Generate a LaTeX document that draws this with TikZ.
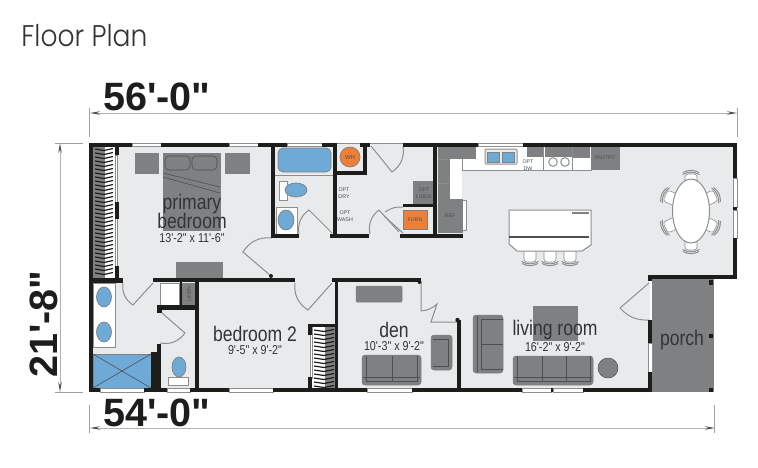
\documentclass[tikz,border=0pt]{standalone}
\usepackage{fontspec}
\newfontfamily\planfont{Liberation Sans}
\newfontfamily\titlefont{Poppins Light}
\usetikzlibrary{arrows.meta}
\definecolor{floorgrey}{HTML}{E9EAEC}
\definecolor{wallblack}{HTML}{1D1D1B}
\definecolor{fixgrey}{HTML}{7F8082}
\definecolor{fixline}{HTML}{4D4F52}
\definecolor{doorgrey}{HTML}{8C8E90}
\definecolor{tubblue}{HTML}{6FA9D6}
\definecolor{heatorange}{HTML}{EE7F36}
\definecolor{inkgrey}{HTML}{333436}
\tikzset{
	wall/.style={fill=wallblack},
	pane/.style={fill=white, draw=doorgrey, line width=0.012cm},
	door/.style={draw=doorgrey, line width=0.02cm},
	fixture/.style={fill=fixgrey, draw=fixgrey, line width=0.01cm},
	cushion/.style={draw=fixline, line width=0.012cm},
	whitebox/.style={fill=white, draw=doorgrey, line width=0.012cm},
	bluefix/.style={fill=tubblue, draw=fixgrey, line width=0.014cm},
	orangefix/.style={fill=heatorange, draw=fixgrey, line width=0.014cm},
	rod/.style={draw=wallblack, line width=0.024cm},
	measure/.style={draw=doorgrey!70, line width=0.02cm},
	tick/.style={draw=doorgrey!85, line width=0.02cm},
	roomlabel/.style={text=inkgrey, inner sep=0pt, font=\planfont\fontsize{10}{10}\selectfont},
	sizelabel/.style={text=inkgrey, inner sep=0pt, font=\planfont\fontsize{6.1}{6.1}\selectfont},
	tinylabel/.style={text=fixline, inner sep=0pt, align=center, font=\planfont\fontsize{3}{3.9}\selectfont},
	dimlabel/.style={text=wallblack, inner sep=0pt, font=\planfont\fontsize{22.5}{22.5}\selectfont\bfseries},
}
\newcommand\tallword[1]{\scalebox{1}[1.2]{#1}}
\def\dinechair[#1](#2,#3){\begin{scope}[shift={(#2,#3)},rotate=#1]
	\draw[whitebox, rounded corners=0.06cm] (-6,-4) rectangle (6,9);
	\draw[door] (-8.5,-3.5) to[bend left=28] (8.5,-3.5);
	\draw[door] (-8,-5.5) to[bend left=28] (8,-5.5);
\end{scope}}
\begin{document}
\begin{tikzpicture}[x=0.02cm, y=-0.02cm]
		%%%%% START %%%%%
		
		\useasboundingbox (0, 0) rectangle (758, 467);
		\fill[white] (0, 0) rectangle (758, 467);
		
		\node[text=inkgrey, anchor=base west, inner sep=0pt, font=\titlefont\fontsize{17}{17}\selectfont] (title) at (21, 46) {\scalebox{0.89}[1]{Floor Plan}};
		
		% floor and porch
		\fill[floorgrey] (90, 143) -- (737, 143) -- (737, 277) -- (650, 277) -- (650, 392) -- (90, 392) -- cycle;
		\draw[fixture] (652, 279) rectangle (713, 391);
		\fill[wall] (709, 280) rectangle (713, 285);
		\fill[wall] (709, 334) rectangle (713, 338);
		\fill[wall] (709, 388) rectangle (713, 392);
		
		% closet of the primary bedroom
		\fill[white] (93, 146) rectangle (115, 278);
		\fill[fixgrey] (93, 146) rectangle (105, 278);
		\foreach \yy in {149, 153, ..., 275}
			\draw[rod] (95, \yy) -- (104, \yy+1.5) -- (113, \yy-0.5);
		\draw[door, fill=white] (115, 155) rectangle (117.5, 267);
		
		% closet of bedroom 2
		\fill[white] (312, 327) rectangle (335, 388);
		\fill[fixgrey] (325, 327) rectangle (335, 388);
		\foreach \yy in {330, 334, ..., 386}
			\draw[rod] (314, \yy) -- (324, \yy+1.5) -- (334, \yy-0.5);
		\draw[door, fill=white] (310, 327) rectangle (312.5, 378);
		
		% primary bedroom
		\draw[fixture] (135, 153) rectangle (158, 173);
		\draw[fixture] (225, 153) rectangle (249, 173);
		\draw[fixture] (163, 153) rectangle (220, 230);
		\draw[cushion, rounded corners=0.08cm] (165, 156) rectangle (190, 170);
		\draw[cushion, rounded corners=0.08cm] (192, 156) rectangle (217, 170);
		\draw[cushion] (163, 173) -- (220, 187);
		\draw[cushion] (163, 177) -- (220, 193);
		\draw[fixture] (176, 262) rectangle (222, 277);
		\draw[door] (271, 276) -- (243, 252) to[bend left=32] (272, 238);
		
		% bath off the hall
		\draw[bluefix, rounded corners=0.1cm] (278, 148) rectangle (331, 172);
		\draw[door] (275, 175) -- (333, 175);
		\draw[whitebox] (279, 181) rectangle (287, 200);
		\draw[bluefix] (296, 190) ellipse (11 and 7);
		\draw[whitebox] (276, 207) rectangle (297, 234);
		\draw[bluefix] (286, 220) ellipse (8 and 10);
		\draw[door] (332, 233) -- (309, 210) to[bend right=32] (299, 234);
		
		% utility
		\draw[orangefix] (350, 157) circle (10);
		\node[tinylabel, font=\planfont\fontsize{3.4}{3.4}\selectfont] (wh) at (350, 157) {WH};
		\node[tinylabel] (optdry) at (344, 193) {OPT\\DRY};
		\node[tinylabel] (optwash) at (345, 216) {OPT\\WASH};
		\draw[door] (371, 146) -- (392, 172) to[bend right=32] (403, 146);
		\draw[fixture] (413, 181) rectangle (434, 204);
		\node[tinylabel] (optlinen) at (424, 193) {OPT\\LINEN};
		\draw[orangefix] (403, 210) rectangle (427, 229);
		\node[tinylabel] (furn) at (415, 220) {FURN};
		\draw[door] (370, 234) to[bend left=32] (379, 210) -- (399, 232);
		\draw[door] (384, 216) -- (403, 233);
		\draw[door] (385, 212) to[bend left=18] (403, 207);
		
		% kitchen
		\fill[white] (449, 158) rectangle (462, 200);
		\draw[whitebox] (462, 146) rectangle (591, 170);
		\fill[floorgrey] (462, 170.5) rectangle (470, 175);
		\draw[fixture] (438, 146) rectangle (475, 158);
		\draw[fixture] (438, 158) rectangle (449, 200);
		\draw[door] (438, 159) -- (449, 159);
		\draw[door] (438, 183) -- (449, 183);
		\draw[whitebox] (462, 200) rectangle (466, 230);
		\draw[fixture] (438, 199) rectangle (462, 232);
		\node[tinylabel] (ref) at (450, 216) {REF};
		\draw[fill=floorgrey, draw=doorgrey, line width=0.02cm, rounded corners=0.02cm] (485, 149) rectangle (517, 164);
		\draw[bluefix] (487, 152) rectangle (499, 162);
		\draw[bluefix] (502, 152) rectangle (514, 162);
		\node[tinylabel] (optdw) at (528, 165) {OPT\\DW};
		\fill[fixgrey] (527, 146) rectangle (543, 157);
		\draw[door] (543, 146) -- (543, 170);
		\fill[fixgrey] (545, 146) rectangle (572, 157);
		\draw[door] (572, 146) -- (572, 170);
		\fill[fixgrey] (573, 146) rectangle (590, 158);
		\draw[door] (553, 162) circle (4.3);
		\draw[door] (565, 162) circle (4.3);
		\draw[fixture] (591, 146) rectangle (619, 169);
		\node[tinylabel] (pantry) at (605, 158) {PANTRY};
		
		% island with stools
		\dinechair[180](530, 258)
		\dinechair[180](550, 258)
		\dinechair[180](570, 258)
		\draw[whitebox, line width=0.02cm] (509, 210) -- (591, 210) -- (591, 245) -- (582, 251) -- (517, 251) -- (509, 244) -- cycle;
		\draw[fixline, line width=0.03cm] (509, 237) -- (589, 237);
		\draw[fixgrey, line width=0.035cm] (572, 213) -- (589, 213);
		
		% dining
		\dinechair[0](691, 178)
		\dinechair[180](691, 246)
		\dinechair[65](669, 197)
		\dinechair[115](669, 226)
		\dinechair[-65](712, 197)
		\dinechair[-115](712, 226)
		\draw[whitebox, line width=0.02cm] (691, 211) ellipse (18.5 and 32);
		
		% back bath
		\draw[whitebox] (93, 283) rectangle (115, 347);
		\draw[bluefix] (104, 297) ellipse (7.5 and 10);
		\draw[bluefix] (104, 332) ellipse (7.5 and 10);
		\draw[bluefix] (93, 354) rectangle (151, 388);
		\draw[cushion] (93, 354) -- (151, 388);
		\draw[cushion] (93, 388) -- (151, 354);
		\draw[door] (123, 283) to[bend right=32] (133, 305) -- (153, 283);
		\draw[whitebox] (160, 283) rectangle (179, 305);
		\draw[fixture] (182, 283) rectangle (195, 306);
		\node[tinylabel, rotate=90] (linen) at (189, 294) {LINEN};
		\draw[bluefix] (179, 367) ellipse (7 and 10);
		\draw[whitebox] (168, 377) rectangle (188, 385);
		\draw[door] (162, 313) -- (185, 333) to[bend left=32] (160, 343);
		
		% bedroom 2 door
		\draw[door] (295, 283) to[bend right=32] (308, 310) -- (332, 283);
		
		% den
		\draw[fixture, rounded corners=0.02cm] (356, 286) rectangle (402, 302);
		\draw[fixture, rounded corners=0.06cm] (362, 355) rectangle (421, 385);
		\draw[cushion] (366, 356) -- (366, 381) -- (417, 381) -- (417, 356);
		\draw[cushion] (363, 377) -- (420, 377);
		\draw[cushion] (392, 356) -- (392, 381);
		\draw[fixture, rounded corners=0.06cm] (431, 335) rectangle (452, 370);
		\draw[cushion] (433, 339) -- (448, 339) -- (448, 366) -- (433, 366);
		\draw[door] (421, 282) -- (421, 311) to[bend right=18] (437, 304) -- (431, 322) -- (457, 322);
		
		% living room
		\draw[fixture, rounded corners=0.06cm] (473, 315) rectangle (503, 373);
		\draw[cushion] (477, 316) -- (477, 372);
		\draw[cushion] (481, 319) -- (481, 369);
		\draw[cushion] (481, 319) -- (503, 319);
		\draw[cushion] (481, 344) -- (503, 344);
		\draw[cushion] (481, 369) -- (503, 369);
		\draw[fixture] (533, 306) rectangle (577, 340);
		\draw[fixture, rounded corners=0.06cm] (513, 356) rectangle (593, 385);
		\draw[cushion] (517, 356) -- (517, 381) -- (590, 381) -- (590, 356);
		\draw[cushion] (514, 377) -- (592, 377);
		\draw[cushion] (542, 356) -- (542, 381);
		\draw[cushion] (566, 356) -- (566, 381);
		\draw[fixture, draw=fixline] (608, 368) circle (10);
		\draw[door] (649, 283) -- (620, 308) to[bend right=25] (649, 320);
		
		% walls, top and left
		\fill[wall] (89, 143) rectangle (132, 146.5);
		\draw[pane] (132, 143) rectangle (161, 146);
		\fill[wall] (161, 143) rectangle (229, 146.5);
		\draw[pane] (229, 143) rectangle (258, 146);
		\fill[wall] (258, 143) rectangle (287, 146.5);
		\draw[pane] (287, 143) rectangle (322, 146);
		\fill[wall] (322, 143) rectangle (337, 146.5);
		\draw[door, line width=0.01cm] (337, 143) -- (360, 143);
		\fill[wall] (360, 143) rectangle (370, 146.5);
		\draw[door, line width=0.01cm] (370, 143) -- (403, 143);
		\fill[wall] (403, 143) rectangle (478, 146.5);
		\draw[pane] (478, 143) rectangle (523, 146);
		\fill[wall] (523, 143) rectangle (737, 146.5);
		\fill[wall] (733, 143) rectangle (737, 178);
		\draw[pane] (733.5, 178) rectangle (737, 207);
		\fill[wall] (733, 207) rectangle (737, 210);
		\draw[pane] (733.5, 210) rectangle (737, 238);
		\fill[wall] (733, 238) rectangle (737, 278);
		\fill[wall] (648, 275) rectangle (737, 278.5);
		\fill[wall] (89, 143) rectangle (93, 392);
		\fill[wall] (115, 146) rectangle (119, 155);
		\fill[wall] (115, 202) rectangle (119, 219);
		\fill[wall] (115, 266) rectangle (119, 280);
		
		% walls, bottom and porch side
		\fill[wall] (89, 388) rectangle (100, 392);
		\draw[pane] (100, 388) rectangle (144, 392);
		\fill[wall] (144, 388) rectangle (167, 392);
		\draw[pane] (167, 388) rectangle (190, 392);
		\fill[wall] (190, 388) rectangle (229, 392);
		\draw[pane] (229, 388) rectangle (273, 392);
		\fill[wall] (273, 388) rectangle (367, 392);
		\draw[pane] (367, 388) rectangle (412, 392);
		\fill[wall] (412, 388) rectangle (522, 392);
		\draw[pane] (522, 388) rectangle (551, 392);
		\fill[wall] (551, 388) rectangle (553.5, 392);
		\draw[pane] (553.5, 388) rectangle (583, 392);
		\fill[wall] (583, 388) rectangle (652, 392);
		\fill[wall] (648, 275) rectangle (652, 281);
		\fill[wall] (648, 320) rectangle (652, 343);
		\draw[pane] (648.5, 343) rectangle (652, 372);
		\fill[wall] (648, 372) rectangle (652, 392);
		
		% walls, inside
		\fill[wall] (93, 278) rectangle (123, 283);
		\fill[wall] (153, 278) rectangle (295, 282);
		\fill[wall] (332, 278) rectangle (421, 282);
		\fill[wall] (271, 143) rectangle (275, 238);
		\fill[wall] (271, 234) rectangle (299, 237.5);
		\fill[wall] (330, 234) rectangle (369, 237.5);
		\fill[wall] (400, 233.5) rectangle (463, 237.5);
		\fill[wall] (333, 143) rectangle (337, 237);
		\fill[wall] (433, 146) rectangle (437, 235);
		\fill[wall] (403, 204) rectangle (437, 207);
		\fill[wall] (337, 171) rectangle (367, 175);
		\fill[wall] (363, 143) rectangle (367, 175);
		\fill[wall] (335, 278) rectangle (338, 392);
		\fill[wall] (457, 320) rectangle (461, 392);
		\fill[wall] (419.5, 282) circle (2);
		\fill[wall] (457.5, 320) circle (2.2);
		\fill[wall] (195, 282) rectangle (199, 392);
		\fill[wall] (179.5, 282) rectangle (182, 310);
		\fill[wall] (157, 305) rectangle (199, 310);
		\fill[wall] (157, 305) rectangle (162, 313);
		\fill[wall] (157, 344) rectangle (161, 392);
		\fill[wall] (151, 352) rectangle (161, 392);
		\fill[wall] (308, 324) rectangle (335, 327);
		\fill[wall] (308, 324) rectangle (312, 335);
		\fill[wall] (308, 377) rectangle (312, 392);
		\fill[wall] (271, 276) circle (2);
		
		% room names
		\node[roomlabel] (primary) at (192, 204) {\tallword{primary}};
		\node[roomlabel] (bedroom) at (192, 221) {\tallword{bedroom}};
		\node[sizelabel] (primarysize) at (192, 238) {\tallword{13'-2" x 11'-6"}};
		\node[roomlabel] (bedroomtwo) at (255, 334) {\tallword{bedroom 2}};
		\node[sizelabel] (bedroomtwosize) at (255, 350) {\tallword{9'-5" x 9'-2"}};
		\node[roomlabel] (den) at (394, 330) {\tallword{den}};
		\node[sizelabel] (densize) at (394, 346) {\tallword{10'-3" x 9'-2"}};
		\node[roomlabel] (living) at (555, 330) {\tallword{living room}};
		\node[sizelabel] (livingsize) at (555, 347) {\tallword{16'-2" x 9'-2"}};
		\node[roomlabel] (porch) at (682, 340) {\tallword{porch}};
		
		% dimensions
		\coordinate (topa) at (90, 113);
		\coordinate (topb) at (737, 113);
		\draw[measure, {Stealth[length=0.2cm, width=0.07cm, color=fixline]}-{Stealth[length=0.2cm, width=0.07cm, color=fixline]}] (topa) -- (topb);
		\draw[tick] (89.5, 108) -- (89.5, 137);
		\draw[tick] (737, 108) -- (737, 137);
		\node[dimlabel, anchor=base west] (overall) at (103, 110) {56'-0"};
		
		\coordinate (lefta) at (60, 143);
		\coordinate (leftb) at (60, 392);
		\draw[measure, {Stealth[length=0.2cm, width=0.07cm, color=fixline]}-{Stealth[length=0.2cm, width=0.07cm, color=fixline]}] (lefta) -- (leftb);
		\draw[tick] (55, 143) -- (83, 143);
		\draw[tick] (55, 392) -- (83, 392);
		\node[dimlabel, anchor=base west, rotate=90] (depth) at (57, 378) {21'-8"};
		
		\coordinate (bota) at (90, 428);
		\coordinate (botb) at (715, 428);
		\draw[measure, {Stealth[length=0.2cm, width=0.07cm, color=fixline]}-{Stealth[length=0.2cm, width=0.07cm, color=fixline]}] (bota) -- (botb);
		\draw[tick] (89.5, 405) -- (89.5, 433);
		\draw[tick] (714.5, 405) -- (714.5, 433);
		\node[dimlabel, anchor=base west] (length) at (103, 426) {54'-0"};
		
		%%%%% END %%%%%
	\end{tikzpicture}
\end{document}
